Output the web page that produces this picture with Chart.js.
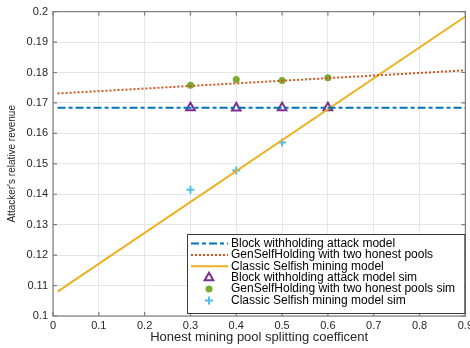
<!DOCTYPE html>
<html>
<head>
  <title>Attacker revenue vs splitting coefficient</title>
  <script src="https://cdn.jsdelivr.net/npm/chart.js"></script>
  <style>
    body {
      margin: 0;
      background: #ffffff;
      overflow: hidden;
    }
  </style>
</head>
<body>
  <canvas id="revChart" width="476" height="348"></canvas>

  <script>
    // model curves (straight lines, end points)
    const modelX = [0.01, 0.9];
    const blockWithholding = [0.1684, 0.1684];
    const genSelfHolding = [0.1731, 0.1807];
    const classicSelfish = [0.108, 0.1984];

    // simulation points
    const simX = [0.3, 0.4, 0.5, 0.6];
    const blockSim = [0.1684, 0.1683, 0.1684, 0.1684];
    const genSelfSim = [0.1758, 0.1777, 0.1774, 0.1783];
    const classicSim = [0.1415, 0.1478, 0.157, 0.1686];

    const xTicks = [0, 0.1, 0.2, 0.3, 0.4, 0.5, 0.6, 0.7, 0.8, 0.9];
    const yTicks = [0.1, 0.11, 0.12, 0.13, 0.14, 0.15, 0.16, 0.17, 0.18, 0.19, 0.2];

    const labels = [
      'Block withholding attack model',
      'GenSelfHolding with two honest pools',
      'Classic Selfish mining model',
      'Block withholding attack model sim',
      'GenSelfHolding with two honest pools sim',
      'Classic Selfish mining model sim'
    ];

    const pts = (xs, ys) => xs.map((x, i) => ({ x: x, y: ys[i] }));

    // MATLAB style box with inward ticks
    const boxPlugin = {
      id: 'matlabBox',
      afterDatasetsDraw: (chart) => {
        const ctx = chart.ctx;
        const a = chart.chartArea;
        const xs = chart.scales.x, ys = chart.scales.y;
        ctx.save();
        ctx.strokeStyle = '#7d7d7d';
        ctx.lineWidth = 1.2;
        ctx.strokeRect(a.left, a.top, a.right - a.left, a.bottom - a.top);
        ctx.beginPath();
        xTicks.forEach(v => {
          const px = xs.getPixelForValue(v);
          ctx.moveTo(px, a.bottom); ctx.lineTo(px, a.bottom - 4);
          ctx.moveTo(px, a.top); ctx.lineTo(px, a.top + 4);
        });
        yTicks.forEach(v => {
          const py = ys.getPixelForValue(v);
          ctx.moveTo(a.left, py); ctx.lineTo(a.left + 4, py);
          ctx.moveTo(a.right, py); ctx.lineTo(a.right - 4, py);
        });
        ctx.stroke();
        ctx.restore();
      }
    };

    // legend box in the lower right corner, like the original
    const legendPlugin = {
      id: 'boxLegend',
      afterDraw: (chart) => {
        const ctx = chart.ctx;
        const a = chart.chartArea;
        const right = a.right - 1, left = 187, top = 234, bottom = 313;
        const rowH = 11.4, firstRow = 243.5;
        ctx.save();
        ctx.fillStyle = '#ffffff';
        ctx.fillRect(left, top, right - left, bottom - top);
        ctx.strokeStyle = '#3a3a3a';
        ctx.lineWidth = 1;
        ctx.strokeRect(left + 0.5, top + 0.5, right - left, bottom - top);
        ctx.textBaseline = 'middle';
        chart.data.datasets.forEach((ds, i) => {
          const y = firstRow + i * rowH;
          if (ds.showLine) {
            ctx.save();
            ctx.strokeStyle = ds.borderColor;
            ctx.lineWidth = ds.borderWidth;
            ctx.setLineDash(ds.borderDash || []);
            ctx.beginPath();
            ctx.moveTo(191, y);
            ctx.lineTo(228, y);
            ctx.stroke();
            ctx.restore();
          } else {
            ctx.save();
            ctx.fillStyle = ds.pointBackgroundColor;
            ctx.strokeStyle = ds.pointBorderColor;
            ctx.lineWidth = ds.pointBorderWidth;
            Chart.helpers.drawPoint(ctx, {
              pointStyle: ds.pointStyle,
              radius: ds.pointRadius,
              borderWidth: ds.pointBorderWidth,
              rotation: 0
            }, 209, y);
            ctx.restore();
          }
          ctx.font = '12px "Liberation Sans", Arial, sans-serif';
          ctx.fillStyle = '#000000';
          ctx.fillText(labels[i], 231, y);
        });
        ctx.restore();
      }
    };

    const ctx = document.getElementById('revChart').getContext('2d');

    new Chart(ctx, {
      type: 'scatter',
      data: {
        datasets: [{
          label: labels[0],
          data: pts(modelX, blockWithholding),
          showLine: true,
          borderColor: '#0072BD',
          borderWidth: 2,
          borderDash: [8, 3, 4, 3],
          pointRadius: 0
        }, {
          label: labels[1],
          data: pts(modelX, genSelfHolding),
          showLine: true,
          borderColor: '#D95319',
          borderWidth: 2,
          borderDash: [2, 2],
          pointRadius: 0
        }, {
          label: labels[2],
          data: pts(modelX, classicSelfish),
          showLine: true,
          borderColor: '#EDB120',
          borderWidth: 2,
          pointRadius: 0
        }, {
          label: labels[3],
          data: pts(simX, blockSim),
          showLine: false,
          pointStyle: 'triangle',
          pointRadius: 5,
          pointBorderWidth: 2,
          pointBorderColor: '#7E2F8E',
          pointBackgroundColor: '#ffffff'
        }, {
          label: labels[4],
          data: pts(simX, genSelfSim),
          showLine: false,
          pointStyle: 'circle',
          pointRadius: 3.5,
          pointBorderWidth: 0,
          pointBorderColor: '#77AC30',
          pointBackgroundColor: '#77AC30'
        }, {
          label: labels[5],
          data: pts(simX, classicSim),
          showLine: false,
          pointStyle: 'cross',
          pointRadius: 4,
          pointBorderWidth: 2,
          pointBorderColor: '#4DBEEE',
          pointBackgroundColor: '#4DBEEE'
        }]
      },
      options: {
        responsive: false,
        animation: false,
        layout: { padding: { top: 6, right: 0, left: 0, bottom: 0 } },
        plugins: {
          legend: { display: false },
          tooltip: { enabled: false }
        },
        scales: {
          x: {
            type: 'linear',
            min: 0,
            max: 0.9,
            afterBuildTicks: (scale) => { scale.ticks = xTicks.map(v => ({ value: v })); },
            afterFit: (scale) => { scale.height = 32; },
            border: { display: false },
            grid: { color: '#e6e6e6', drawTicks: false },
            ticks: {
              padding: 3,
              color: '#262626',
              font: { family: '"Liberation Sans", Arial, sans-serif', size: 11 },
              maxRotation: 0,
              callback: (v) => String(Math.round(v * 10) / 10)
            },
            title: {
              display: true,
              text: 'Honest mining pool splitting coefficent',
              color: '#262626',
              font: { family: '"Liberation Sans", Arial, sans-serif', size: 13 },
              padding: { top: 0, bottom: 3 }
            }
          },
          y: {
            type: 'linear',
            min: 0.1,
            max: 0.2,
            afterBuildTicks: (scale) => { scale.ticks = yTicks.map(v => ({ value: v })); },
            afterFit: (scale) => { scale.width = 53; },
            border: { display: false },
            grid: { color: '#e6e6e6', drawTicks: false },
            ticks: {
              padding: 5,
              color: '#262626',
              font: { family: '"Liberation Sans", Arial, sans-serif', size: 11 },
              callback: (v) => String(Math.round(v * 100) / 100)
            },
            title: {
              display: true,
              text: "Attacker's relative revenue",
              color: '#262626',
              font: { family: '"Liberation Sans Narrow", "Liberation Sans", Arial, sans-serif', size: 10 },
              padding: { top: 6, bottom: 0 }
            }
          }
        }
      },
      plugins: [boxPlugin, legendPlugin]
    });
  </script>
</body>
</html>
